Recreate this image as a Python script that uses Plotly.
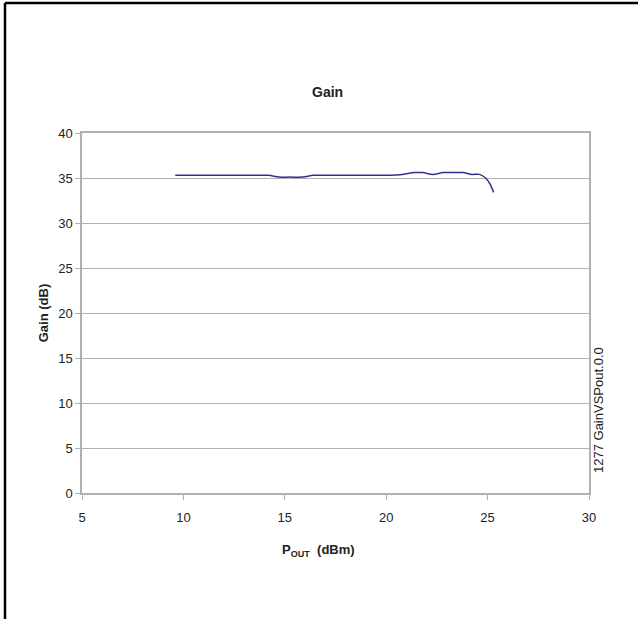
import plotly.graph_objects as go

pout_dbm = [9.6, 10.6, 11.6, 12.6, 13.6, 14.2, 14.7, 15.2, 15.9, 16.4, 17.2, 18.2, 19.2, 20.2,
            20.8, 21.4, 21.8, 22.3, 22.8, 23.3, 23.8, 24.2, 24.6, 24.9, 25.1, 25.3]
gain_db = [35.3, 35.3, 35.3, 35.3, 35.3, 35.3, 35.1, 35.1, 35.1, 35.3, 35.3, 35.3, 35.3, 35.3,
           35.4, 35.6, 35.6, 35.4, 35.6, 35.6, 35.6, 35.4, 35.4, 35.0, 34.4, 33.4]

x_ticks = [5, 10, 15, 20, 25, 30]
y_ticks = [0, 5, 10, 15, 20, 25, 30, 35, 40]

W, H = 638, 619
L, R, T, B = 82, 49, 133, 126
pw, ph = W - L - R, H - T - B

def px(x):
    return (x - L) / pw

def py(y):
    return (H - B - y) / ph

FONT = "Liberation Sans Narrow, Arial Narrow, Liberation Sans, Arial, sans-serif"
GRAY = "#b0b0b0"

fig = go.Figure()
fig.add_trace(go.Scatter(
    x=pout_dbm, y=gain_db, mode="lines",
    line=dict(color="#2e3192", width=1.5, shape="spline", smoothing=0.8),
    showlegend=False, hoverinfo="skip"))

fig.update_layout(
    width=W, height=H,
    margin=dict(l=L, r=R, t=T, b=B),
    paper_bgcolor="white", plot_bgcolor="white",
    font=dict(family=FONT, size=13, color="#222222"),
    xaxis=dict(range=[5, 30], tickvals=x_ticks, showgrid=False, zeroline=False,
               showline=True, linecolor=GRAY, linewidth=1.5, mirror=True,
               ticks="outside", ticklen=5, tickcolor=GRAY, tickwidth=1,
               ticklabelstandoff=7,
               tickfont=dict(family=FONT, size=13, color="#222222")),
    yaxis=dict(range=[0, 40], tickvals=y_ticks, showgrid=True, gridcolor=GRAY, gridwidth=1,
               zeroline=False, showline=True, linecolor=GRAY, linewidth=1.5, mirror=True,
               ticks="outside", ticklen=5, tickcolor=GRAY, tickwidth=1,
               tickfont=dict(family=FONT, size=13, color="#222222"),
               title=dict(text="<b>Gain (dB)</b>", font=dict(family=FONT, size=13), standoff=7)),
)

fig.add_annotation(text="<b>Gain</b>", xref="paper", yref="paper",
                   x=px(327), y=py(92), xanchor="center", yanchor="middle", showarrow=False,
                   font=dict(family=FONT, size=14, color="#222222"))
fig.add_annotation(text="<b>P<sub>OUT</sub>  (dBm)</b>", xref="paper", yref="paper",
                   x=px(318), y=py(550), xanchor="center", yanchor="middle", showarrow=False,
                   font=dict(family=FONT, size=13, color="#222222"))
fig.add_annotation(text="1277 GainVSPout.0.0", xref="paper", yref="paper",
                   x=px(598), y=py(410), xanchor="center", yanchor="middle", showarrow=False,
                   textangle=-90, font=dict(family=FONT, size=13, color="#222222"))

# outer frame (left and top edges)
fig.add_shape(type="line", xref="paper", yref="paper",
              x0=px(5), x1=px(5), y0=py(3), y1=py(H + 5),
              line=dict(color="black", width=2.5))
fig.add_shape(type="line", xref="paper", yref="paper",
              x0=px(5), x1=px(W + 5), y0=py(3), y1=py(3),
              line=dict(color="black", width=2.5))

fig.write_html("out.html", config={"displayModeBar": False},
               post_script="document.body.style.margin='0px';")
